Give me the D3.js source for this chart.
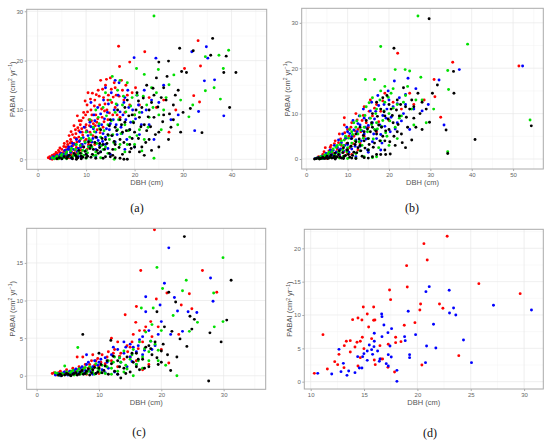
<!DOCTYPE html>
<html><head><meta charset="utf-8">
<script src="https://cdn.jsdelivr.net/npm/d3@7"></script>
<style>body{margin:0;background:#fff}svg{display:block}</style>
</head><body><svg id="c" width="550" height="445"></svg>
<script>
// ---- Panel (a) ----
const aRed=[[2.2,0.3],[2.5,0.5],[2.8,0.2],[3.0,0.8],[3.2,0.4],[3.5,1.0],[3.7,0.6],[4.0,1.2],[4.2,0.3],[4.5,1.5],[4.8,0.9],[5.0,2.0],[5.2,0.5],[5.5,1.6],[5.8,2.5],[6.0,1.0],[6.2,3.0],[6.5,2.2],[6.8,4.0],[7.0,1.5],[7.2,5.0],[7.5,3.2],[7.8,6.0],[8.0,2.4],[8.2,8.8],[8.5,4.5],[8.8,7.0],[9.0,3.0],[9.2,5.5],[9.5,9.5],[9.8,6.5],[10.0,4.0],[10.2,11.0],[10.4,13.5],[10.6,8.0],[10.8,5.5],[11.0,10.0],[11.3,13.4],[11.5,7.2],[11.8,12.0],[12.0,9.0],[12.3,6.0],[12.5,14.0],[12.8,11.0],[13.0,16.0],[13.3,8.5],[13.6,12.5],[14.0,15.0],[14.3,10.0],[14.6,13.0],[15.0,16.5],[15.3,11.5],[15.8,15.5],[16.2,13.0],[16.7,22.9],[16.9,18.8],[17.3,16.0],[17.8,12.0],[18.2,15.0],[19.0,19.7],[19.5,13.5],[20.2,14.5],[21.0,11.0],[22.1,21.8],[23.0,12.5],[24.5,10.5],[26.0,12.0],[27.1,5.5],[28.5,10.0],[30.3,18.4],[32.2,12.9],[33.1,24.05],[33.4,11.6],[33.6,18.9],[6.0,0.5],[7.0,0.8],[8.0,1.2],[9.0,1.8],[5.0,0.2],[4.0,0.1],[3.5,0.2],[6.5,0.3],[11.0,3.5],[12.0,4.5],[13.5,6.5],[14.5,8.0],[15.5,9.0],[9.5,2.5],[10.5,3.0],[16.0,10.5],[17.0,8.5],[18.0,9.5],[19.0,11.0],[20.0,9.0],[3.0,0.0],[4.5,0.7],[5.5,3.2],[6.5,4.8],[7.5,6.8],[8.5,5.8],[9.0,7.8],[10.0,7.0],[11.2,9.0],[12.2,7.5],[7.0,3.5],[8.0,4.2],[9.8,11.8],[13.8,9.8],
 [3.3,0.9],[3.8,1.4],[4.3,1.8],[4.6,2.3],[5.1,1.3],[5.4,2.6],[5.9,1.9],[6.1,3.6],[6.3,2.6],[6.7,3.3],[6.9,5.6],[7.3,2.8],[7.6,4.4],[7.9,5.2],[8.1,3.5],[8.3,6.4],[8.6,7.8],[8.7,3.8],[9.1,6.2],[9.3,4.9],[9.4,8.4],[9.7,3.7],[9.9,9.0],[10.1,5.8],[10.3,9.6],[10.7,6.8],[10.9,12.2],[11.1,7.8],[11.4,4.8],[11.7,10.8],[11.9,6.8],[12.1,13.1],[12.4,8.2],[12.7,12.8],[12.9,5.4],[13.2,10.2],[13.4,14.2],[13.7,7.6],[13.9,11.2],[14.2,16.2],[14.5,12.0],[14.8,9.4],[15.2,14.2],[15.6,12.6],[16.0,14.5],[16.4,9.0],[16.8,12.8],[17.5,14.0],[18.5,13.0],[2.6,0.1],[3.4,0.5],[4.8,0.4],[5.7,0.8],[6.8,1.0],[7.7,1.8],[8.8,2.4],[10.2,2.0],[11.8,3.0]];
const aBlue=[[2.8,0.2],[3.2,0.5],[3.6,0.3],[4.0,0.8],[4.4,0.4],[4.8,1.2],[5.2,0.6],[5.6,1.8],[6.0,0.9],[6.4,2.5],[6.8,1.4],[7.2,3.2],[7.6,1.0],[8.0,4.0],[8.4,2.2],[8.8,5.5],[9.2,3.0],[9.6,6.5],[10.0,1.8],[10.4,4.8],[10.8,7.5],[11.2,3.5],[11.6,9.0],[12.0,5.5],[12.4,10.5],[12.8,2.8],[13.2,7.0],[13.6,12.0],[14.0,4.5],[14.4,9.5],[14.8,6.0],[15.2,13.5],[15.6,8.0],[16.0,3.5],[16.4,11.0],[16.8,15.5],[17.2,6.5],[17.6,9.0],[18.0,12.5],[18.4,4.0],[18.8,10.5],[19.2,7.5],[19.9,20.6],[20.5,13.0],[21.0,5.0],[21.5,9.5],[22.0,14.0],[23.0,7.0],[24.4,20.5],[25.0,11.5],[26.0,15.0],[27.5,8.0],[29.0,9.0],[31.8,21.8],[32.4,5.8],[33.2,9.7],[34.4,15.9],[34.8,22.8],[35.1,20.5],[36.5,16.1],[38.4,8.8],[24.0,4.0],[20.0,2.5],[15.0,1.0],[12.0,0.5],[9.0,0.4],[7.0,0.2],[16.0,16.0],[14.0,14.5],[11.0,11.5],[13.0,1.5],[18.0,2.0],[5.0,0.1],[6.5,0.5],[8.0,0.8],[10.5,2.6],[12.5,3.8],[14.5,2.2],[11.5,6.2],[13.5,5.2],
 [3.4,0.2],[3.9,0.5],[4.6,0.9],[5.4,1.1],[5.9,1.3],[6.2,2.0],[6.6,1.9],[7.0,2.6],[7.4,2.0],[7.8,3.0],[8.2,1.6],[8.6,3.6],[9.0,2.5],[9.4,4.4],[9.8,3.3],[10.2,5.6],[10.6,3.8],[11.0,6.6],[11.4,4.2],[11.8,7.8],[12.2,4.4],[12.6,6.8],[13.0,9.2],[13.4,3.6],[13.8,8.2],[14.2,6.2],[14.6,11.2],[15.0,7.2],[15.4,4.8],[15.8,10.0],[16.2,7.0],[16.6,13.0],[17.0,9.6],[17.4,5.2],[17.8,11.5],[18.2,8.0],[18.6,14.0],[19.0,6.0],[19.6,10.0],[20.2,8.2],[20.8,11.0],[21.4,7.0],[22.4,10.0],[23.5,12.0],[12.0,2.0],[10.0,1.0],[8.4,0.6],[14.0,3.0],[16.4,5.0]];
const aGreen=[[3.0,0.3],[3.5,0.1],[4.0,0.6],[4.5,0.2],[5.0,1.0],[5.5,0.4],[6.0,1.5],[6.5,0.7],[7.0,2.2],[7.5,0.9],[8.0,3.0],[8.5,1.5],[9.0,4.2],[9.5,0.8],[10.0,5.5],[10.5,2.5],[10.8,8.0],[11.0,3.8],[11.5,6.5],[12.0,1.5],[12.5,8.5],[13.0,4.5],[13.5,10.5],[14.0,2.5],[14.5,7.0],[15.0,12.0],[15.4,16.8],[15.5,5.0],[16.0,9.5],[16.5,14.0],[17.0,3.0],[17.5,11.0],[18.0,7.0],[18.5,15.5],[19.0,4.5],[19.5,12.5],[20.0,9.0],[20.4,18.4],[21.0,6.0],[21.5,1.7],[22.0,17.2],[22.5,11.0],[23.0,8.5],[24.0,29.05],[24.0,0.2],[24.5,13.5],[24.9,18.2],[25.5,6.0],[26.0,10.0],[27.1,15.1],[28.1,17.1],[28.9,7.0],[29.5,12.0],[31.2,8.6],[32.0,11.0],[34.6,13.9],[34.6,20.8],[36.4,14.5],[37.4,21.1],[37.7,12.2],[38.3,18.4],[39.4,22.1],[15.8,0.0],[13.0,0.3],[10.0,0.2],[8.0,0.5],[6.0,0.1],[18.0,1.5],[20.0,3.0],[12.0,10.0],[14.0,13.5],[17.0,16.0],[22.0,4.0],[23.5,14.5],[11.0,5.0],[9.0,1.2],[11.5,0.8],[13.5,2.0],[14.8,4.0],[16.5,6.0],[12.8,6.2],
 [3.8,0.4],[4.3,0.1],[4.8,0.7],[5.3,0.3],[5.8,1.1],[6.3,0.5],[6.8,1.7],[7.3,0.6],[7.8,2.0],[8.3,1.0],[8.8,2.8],[9.3,1.8],[9.8,3.5],[10.3,1.3],[10.6,4.2],[11.2,2.5],[11.7,5.6],[12.2,3.2],[12.7,7.2],[13.2,2.8],[13.7,5.8],[14.2,8.8],[14.6,4.8],[15.2,7.8],[15.7,3.4],[16.2,11.2],[16.7,8.0],[17.2,5.2],[17.7,12.8],[18.2,9.6],[18.7,5.8],[19.2,10.8],[19.7,7.6],[20.5,13.0],[21.0,9.5],[21.8,12.8],[22.8,6.5],[23.8,10.5],[25.0,9.0],[26.5,12.5],[10.0,1.8],[12.0,0.8],[14.5,1.2],[16.0,2.0],[18.5,3.0],[20.5,4.8]];
const aBlack=[[4.0,0.1],[4.5,0.3],[5.0,0.1],[5.5,0.5],[6.0,0.2],[6.5,0.8],[7.0,0.3],[7.5,1.2],[8.0,0.5],[8.5,1.8],[9.0,0.6],[9.5,2.5],[10.0,1.0],[10.5,3.5],[11.0,0.4],[11.5,2.0],[12.0,4.5],[12.5,1.2],[13.0,6.0],[13.5,3.0],[14.0,0.5],[14.5,5.0],[15.0,8.0],[15.5,2.0],[16.0,6.5],[16.5,10.0],[17.0,4.0],[17.5,1.0],[17.8,0.0],[18.0,7.5],[18.5,0.0],[18.5,12.0],[19.0,3.0],[19.5,9.0],[20.0,5.5],[20.5,13.5],[21.0,1.5],[21.5,10.5],[22.0,7.0],[22.5,15.0],[23.0,4.0],[23.5,11.5],[24.0,8.5],[24.5,16.5],[25.0,19.7],[25.0,5.5],[25.5,12.5],[26.0,9.0],[26.7,16.8],[27.0,19.9],[27.5,6.5],[28.0,11.0],[29.0,14.0],[29.3,22.5],[29.5,5.5],[29.7,17.8],[30.7,17.6],[31.5,10.3],[32.1,22.0],[33.9,5.4],[35.7,21.1],[36.1,24.5],[38.4,17.6],[38.9,20.9],[39.6,10.5],[40.9,17.6],[12.0,0.2],[10.0,0.3],[9.0,0.1],[8.0,0.0],[15.0,0.5],[16.0,0.3],[13.0,1.5],[19.0,6.0],[21.0,8.5],[23.0,10.0],[20.0,2.5],[22.0,0.8],[25.0,2.5],[27.0,4.0],[18.0,10.5],[17.0,8.0],[16.0,3.0],[14.0,4.0],[24.0,13.0],[26.0,14.5],[28.0,8.0],[30.0,9.5],[11.0,2.8],[12.8,3.2],[14.8,6.8],[17.5,5.5],[19.5,4.2],[22.5,5.8],[20.8,11.8],
 [6.2,0.5],[7.2,0.1],[7.8,0.8],[8.3,0.3],[8.8,1.2],[9.3,0.4],[9.8,1.6],[10.3,0.6],[10.8,2.2],[11.3,1.0],[11.8,3.4],[12.3,1.8],[12.8,2.4],[13.3,4.2],[13.8,2.0],[14.3,3.2],[14.8,1.2],[15.3,4.8],[15.8,3.6],[16.3,5.8],[16.8,2.4],[17.3,7.0],[17.8,3.4],[18.3,5.8],[18.8,8.8],[19.3,2.2],[19.8,7.4],[20.3,10.0],[20.8,4.2],[21.3,6.6],[21.8,12.4],[22.3,3.4],[22.8,8.6],[23.3,6.6],[23.8,14.4],[24.3,5.0],[24.8,10.6],[25.8,7.6],[26.5,12.0],[27.2,9.2],[28.4,13.0],[13.5,0.2],[15.5,0.8],[17.0,0.2],[19.0,1.5],[21.5,2.5],[23.5,1.8]];
// ---- Panel (b) ----
const bRed=[[2.5,0.2],[3.0,0.5],[3.5,0.3],[4.0,1.0],[4.6,2.5],[5.0,0.8],[5.5,1.8],[6.0,3.0],[6.5,1.2],[7.0,4.0],[7.5,2.2],[8.0,5.5],[8.5,3.0],[9.2,9.1],[9.2,7.5],[9.5,4.5],[10.0,6.5],[10.5,2.5],[11.0,8.0],[11.5,5.0],[12.0,10.0],[12.5,6.5],[13.0,3.5],[13.5,8.5],[14.0,11.5],[15.0,7.0],[15.5,13.0],[16.0,9.5],[17.0,12.0],[18.0,10.5],[19.0,14.5],[20.0,8.5],[21.0,12.5],[22.1,23.3],[23.0,11.0],[25.0,14.5],[26.0,12.0],[28.5,13.0],[30.9,17.5],[31.1,13.7],[32.5,9.2],[35.4,21.3],[51.4,20.5],[7.0,0.5],[9.0,1.5],[11.0,1.0],[5.0,0.1],[6.0,0.3],[14.0,5.0],[17.0,6.0],
 [3.8,0.4],[4.3,1.6],[5.3,1.0],[5.8,2.6],[6.3,2.0],[6.8,3.4],[7.3,1.6],[7.8,3.6],[8.3,4.4],[8.8,2.2],[9.3,5.8],[9.8,3.4],[10.3,5.0],[10.8,7.0],[11.3,3.4],[11.8,6.2],[12.3,8.6],[13.2,6.0],[13.8,9.6],[14.5,8.0],[15.2,10.5],[16.5,11.2],[17.5,8.2],[18.5,12.8],[4.0,0.2],[8.0,0.8],[10.0,1.2],[12.5,2.0]];
const bBlue=[[2.2,0.1],[2.8,0.3],[3.3,0.2],[3.8,0.6],[4.3,0.3],[4.8,1.2],[5.3,0.5],[5.8,2.0],[6.3,0.9],[6.8,3.0],[7.3,1.5],[7.8,4.2],[8.3,2.2],[8.8,5.5],[9.3,3.0],[9.8,7.0],[10.3,1.5],[10.8,4.5],[11.3,8.5],[11.8,2.8],[12.3,6.0],[12.8,9.5],[13.3,4.0],[13.8,11.0],[14.3,7.0],[14.8,2.0],[15.3,9.0],[15.8,12.5],[16.3,5.5],[16.8,10.5],[17.3,14.0],[17.8,7.5],[18.3,3.5],[18.8,12.0],[19.3,9.0],[19.8,15.0],[20.3,6.0],[21.0,11.5],[21.3,17.2],[22.0,8.0],[22.5,13.5],[23.5,10.0],[24.6,17.8],[25.0,6.5],[26.5,15.5],[28.0,10.6],[29.5,12.0],[32.1,17.4],[33.3,7.5],[37.0,19.7],[52.3,20.5],[12.0,0.5],[9.0,0.3],[7.0,0.2],[15.0,1.5],[18.0,2.0],[10.0,6.0],[11.0,5.0],[13.0,7.5],[14.0,5.5],[16.0,8.0],[17.0,4.5],[20.0,13.0],[24.0,12.0],[6.0,1.5],[8.0,1.0],[5.0,0.8],
 [3.5,0.4],[4.0,0.1],[4.5,0.7],[5.5,1.3],[6.5,1.9],[7.0,0.6],[7.5,2.6],[8.0,2.0],[8.5,3.6],[9.0,1.8],[9.5,4.6],[10.0,3.2],[10.5,5.6],[11.0,2.2],[11.5,6.4],[12.0,4.2],[12.5,7.8],[13.0,2.8],[13.5,6.2],[14.0,9.0],[14.5,4.4],[15.0,7.4],[15.5,10.6],[16.0,3.8],[16.5,8.8],[17.0,6.4],[17.5,11.8],[18.0,5.4],[18.5,9.6],[19.0,7.2],[19.5,11.0],[20.5,9.2],[21.5,6.6],[22.0,12.2],[23.0,8.4],[24.0,14.2],[26.0,11.0]];
const bGreen=[[2.5,0.2],[3.0,0.1],[3.5,0.5],[4.0,0.2],[4.5,0.9],[5.0,0.4],[5.5,1.5],[6.0,0.3],[6.5,2.2],[7.0,0.8],[7.5,3.0],[8.0,1.4],[8.5,4.0],[9.0,0.6],[9.5,5.0],[10.0,2.5],[10.5,6.5],[11.0,3.5],[11.5,8.0],[12.0,1.2],[12.5,5.5],[13.0,9.5],[13.5,3.0],[14.0,7.0],[14.3,17.5],[14.5,11.5],[15.0,4.5],[15.5,9.0],[16.0,13.5],[16.5,17.5],[16.5,6.5],[17.0,11.0],[17.5,2.5],[18.0,24.8],[18.0,15.0],[18.5,8.5],[19.0,12.5],[19.5,5.0],[20.0,10.0],[20.5,14.5],[21.5,19.7],[21.5,7.0],[22.0,12.0],[23.0,9.5],[23.9,19.7],[24.0,14.0],[25.0,19.4],[25.5,11.0],[26.0,7.5],[27.0,31.5],[27.7,18.0],[28.0,13.0],[29.0,8.0],[30.8,11.0],[34.2,19.5],[34.4,15.3],[34.2,1.6],[39.0,25.3],[54.1,8.6],[12.0,0.2],[14.0,0.5],[16.0,0.3],[10.0,0.1],[8.0,0.2],[13.0,1.8],[15.0,2.0],[18.0,4.0],[20.0,3.0],[11.0,6.0],[12.0,7.0],[9.0,3.0],[17.0,8.0],[19.0,16.0],[21.0,15.5],[22.0,4.5],
 [3.2,0.3],[3.8,0.1],[4.2,0.6],[4.8,0.3],[5.2,1.1],[5.8,0.6],[6.2,1.6],[6.8,1.0],[7.2,2.6],[7.8,1.6],[8.2,3.2],[8.8,2.0],[9.2,4.2],[9.8,1.6],[10.2,4.6],[10.8,2.8],[11.2,5.4],[11.8,4.0],[12.2,8.4],[12.8,3.8],[13.2,6.4],[13.8,4.6],[14.2,9.6],[14.8,6.0],[15.2,12.4],[15.8,7.6],[16.2,4.4],[16.8,10.0],[17.2,6.6],[17.8,13.0],[18.2,7.2],[18.8,10.6],[19.2,5.8],[19.8,13.6],[20.2,8.4],[21.0,11.2],[22.5,9.0],[23.5,12.5],[24.5,16.0],[26.5,13.0],[17.0,0.5]];
const bBlack=[[2.0,0.0],[2.5,0.1],[3.0,0.3],[3.5,0.1],[4.0,0.4],[4.5,0.1],[5.0,0.6],[5.5,0.2],[6.0,0.9],[6.5,0.3],[7.0,1.3],[7.5,0.5],[8.0,1.8],[8.5,0.2],[9.0,2.5],[9.5,0.8],[10.0,3.5],[10.5,0.4],[11.0,4.5],[11.5,1.5],[12.0,5.5],[12.5,2.5],[13.0,7.0],[13.5,0.6],[14.0,4.0],[14.5,8.5],[15.0,2.0],[15.5,6.0],[16.0,10.0],[16.5,3.5],[17.0,12.5],[17.5,7.5],[18.0,1.0],[18.5,5.0],[19.0,9.5],[19.2,1.0],[19.5,14.0],[20.0,6.5],[20.3,1.1],[20.5,11.0],[21.2,24.4],[21.0,8.0],[21.5,3.0],[22.0,13.0],[22.5,9.5],[23.0,5.5],[23.5,15.7],[24.0,11.5],[24.5,7.0],[25.5,4.2],[25.5,13.0],[26.0,9.0],[27.0,14.5],[28.0,6.5],[29.0,11.0],[29.7,30.9],[29.8,8.1],[30.5,14.5],[31.7,16.3],[33.8,6.4],[34.2,1.2],[35.6,19.3],[35.7,14.5],[40.8,4.3],[54.4,7.3],[12.0,0.1],[14.0,0.3],[16.0,0.5],[11.0,0.2],[9.0,0.1],[7.0,0.0],[13.0,3.0],[15.0,4.5],[17.0,5.5],[18.0,11.0],[16.0,7.0],[14.0,6.0],[12.0,3.8],[10.0,2.0],[19.0,4.0],[20.0,12.0],[22.0,6.0],[24.0,2.5],[26.0,11.5],[27.5,10.0],[18.5,13.5],
 [3.2,0.0],[3.8,0.2],[4.2,0.2],[4.8,0.3],[5.2,0.1],[5.8,0.5],[6.2,0.2],[6.8,0.6],[7.2,0.3],[7.8,1.0],[8.2,0.4],[8.8,1.4],[9.2,0.6],[9.8,2.0],[10.2,1.0],[10.8,2.8],[11.2,0.8],[11.8,3.2],[12.2,1.4],[12.8,4.4],[13.2,1.8],[13.8,5.2],[14.2,2.4],[14.8,6.6],[15.2,3.2],[15.8,8.0],[16.2,2.6],[16.8,6.2],[17.2,9.4],[17.8,4.0],[18.2,7.0],[18.8,10.4],[19.2,6.2],[19.8,8.8],[20.2,3.8],[20.8,9.6],[21.2,5.0],[21.8,10.8],[22.2,7.6],[22.8,12.0],[23.2,3.6],[24.2,9.2],[25.0,11.0],[26.5,7.0],[28.0,12.5],[15.0,0.2],[17.0,1.0],[19.0,2.0]];
// ---- Panel (c) ----
const cRed=[[2.5,0.3],[3.0,0.2],[3.5,0.4],[4.0,0.1],[4.5,0.5],[5.0,0.3],[5.5,0.6],[6.0,0.2],[6.5,2.5],[6.5,0.8],[7.0,0.4],[7.4,2.5],[7.5,1.0],[8.0,0.5],[8.5,1.5],[9.0,2.8],[9.0,0.8],[9.5,2.0],[10.0,1.2],[10.5,2.8],[11.0,1.6],[11.5,3.2],[12.0,2.0],[12.5,3.5],[13.0,1.2],[13.5,3.0],[14.0,2.2],[14.2,8.1],[14.5,4.0],[15.0,3.8],[15.5,5.5],[15.9,7.1],[16.0,9.2],[16.5,6.0],[16.7,14.0],[17.0,4.5],[17.5,6.5],[18.0,1.5],[18.5,5.2],[18.9,19.4],[19.2,10.2],[19.5,6.5],[20.0,3.5],[20.9,11.0],[21.2,1.7],[22.8,5.5],[23.2,9.4],[24.5,10.9],[24.9,8.9],[26.6,14.0],[28.9,11.1],[17.0,0.8],[15.0,2.5],[13.0,4.5],[12.0,5.0],[10.0,0.3],[8.0,0.2],[16.0,2.0],
 [2.8,0.4],[3.3,0.1],[3.8,0.6],[4.3,0.3],[4.8,0.8],[5.3,0.5],[5.8,1.0],[6.2,0.6],[6.8,1.2],[7.2,0.7],[7.8,1.5],[8.3,1.0],[8.8,2.0],[9.3,1.4],[9.8,2.3],[10.3,1.8],[11.3,2.5],[12.3,3.0],[13.3,2.6],[14.6,3.2],[15.3,4.5],[16.3,3.6],[17.3,6.0],[18.3,7.2]];
const cBlue=[[3.0,0.1],[3.5,0.3],[4.0,0.2],[4.5,0.5],[5.0,0.1],[5.5,0.4],[6.0,0.7],[6.5,0.2],[7.0,1.0],[7.5,0.4],[8.0,1.5],[8.0,2.8],[8.5,0.6],[9.0,1.2],[9.5,0.3],[10.0,1.8],[10.5,0.8],[11.0,2.4],[11.5,1.0],[12.0,2.8],[12.5,0.5],[13.0,3.5],[13.5,1.8],[14.0,3.0],[14.0,4.5],[14.5,1.2],[15.0,2.5],[15.5,3.8],[16.0,1.5],[16.5,4.8],[17.0,2.8],[17.5,10.5],[17.5,8.5],[18.0,6.0],[18.5,3.5],[19.0,4.0],[19.5,5.5],[19.8,9.4],[20.0,7.2],[20.5,12.3],[21.2,17.0],[21.5,5.5],[22.1,10.4],[22.6,8.6],[23.4,5.9],[24.3,8.5],[25.7,8.4],[27.9,13.0],[28.3,9.9],[13.0,0.2],[11.0,0.4],[9.0,0.2],[17.0,5.2],[16.0,3.2],[15.0,4.2],
 [3.3,0.2],[3.8,0.0],[4.3,0.4],[4.8,0.2],[5.3,0.6],[5.8,0.3],[6.3,0.9],[6.8,0.5],[7.3,1.2],[7.8,0.7],[8.3,1.8],[8.8,1.0],[9.3,2.0],[9.8,1.4],[10.3,2.2],[11.3,1.8],[12.3,3.8],[13.3,2.4],[14.3,3.8],[15.3,1.9],[16.3,4.0],[17.3,3.4],[18.3,4.6]];
const cGreen=[[3.0,0.4],[3.5,0.1],[4.0,0.3],[4.5,1.3],[5.0,0.2],[5.5,0.5],[6.0,0.1],[6.6,3.75],[6.5,0.6],[7.0,0.2],[7.5,0.9],[8.0,0.3],[8.5,1.2],[9.0,0.5],[9.5,1.6],[10.0,0.7],[10.5,1.4],[11.0,0.3],[11.5,2.0],[12.0,1.0],[12.5,2.5],[13.0,0.6],[13.5,1.8],[14.0,3.3],[14.5,0.9],[15.0,2.2],[15.5,0.0],[15.5,3.5],[16.0,1.5],[16.5,4.5],[16.8,9.0],[17.0,2.5],[17.5,5.8],[18.0,3.2],[18.5,6.8],[18.7,9.0],[19.0,4.2],[19.3,14.4],[19.5,2.0],[20.0,6.0],[20.2,11.6],[20.7,1.4],[21.9,8.0],[22.5,0.0],[23.4,11.3],[24.0,12.7],[24.5,5.9],[25.8,7.1],[28.4,11.0],[28.5,6.5],[29.9,15.7],[29.9,7.2],[12.0,0.2],[14.0,0.5],[17.0,1.0],[18.0,2.0],
 [3.3,0.3],[3.8,0.1],[4.3,0.2],[4.8,0.5],[5.3,0.3],[5.8,0.7],[6.3,0.2],[6.8,0.9],[7.3,0.4],[7.8,1.1],[8.3,0.6],[8.8,0.9],[9.3,0.2],[9.8,1.0],[10.3,0.4],[11.3,1.2],[12.3,1.8],[13.3,2.4],[14.3,1.4],[15.3,2.8],[16.3,2.0],[17.3,3.6],[18.3,4.6],[19.5,3.4]];
const cBlack=[[3.5,0.1],[4.0,0.0],[5.0,0.2],[5.5,0.0],[6.0,0.3],[6.5,0.1],[7.0,0.5],[7.4,5.5],[7.5,0.2],[8.0,0.6],[8.5,0.1],[9.0,0.8],[9.5,0.3],[10.0,3.0],[10.0,1.0],[10.5,0.4],[11.0,1.3],[11.5,0.2],[11.9,4.7],[12.0,1.6],[12.5,0.6],[13.0,2.0],[13.5,-0.3],[14.0,1.0],[14.5,2.5],[15.0,0.5],[15.5,1.8],[16.0,3.0],[16.5,0.8],[17.0,2.2],[17.5,3.8],[18.0,1.2],[18.5,2.8],[19.0,4.5],[19.3,8.5],[19.5,1.5],[20.0,3.3],[20.5,6.5],[21.2,11.1],[21.5,0.7],[21.7,5.9],[22.3,9.8],[22.5,2.5],[23.0,4.9],[23.7,18.5],[24.1,3.9],[24.6,7.9],[24.9,6.2],[25.3,7.5],[27.6,-0.7],[27.8,5.7],[29.6,4.5],[30.5,7.4],[31.2,12.7],[18.0,4.0],[20.0,1.8],[16.0,1.2],[13.0,0.2],
 [3.8,0.2],[4.5,0.1],[4.8,0.3],[5.3,0.1],[5.8,0.2],[6.3,0.4],[6.8,0.2],[7.3,0.7],[7.8,0.3],[8.3,0.9],[8.8,0.4],[9.3,1.1],[9.8,0.5],[10.3,1.5],[10.8,0.7],[11.3,2.0],[12.3,2.6],[13.3,1.2],[14.3,0.3],[15.3,3.0],[16.3,2.2],[17.3,1.0],[18.3,3.6],[19.3,2.4],[20.3,4.2],[21.0,2.8]];
// ---- Panel (d) ----
const dRed=[[10.34,1.25],[11.15,7.05],[11.56,1.9],[12.25,3.0],[12.53,2.55],[12.65,4.1],[13.15,5.4],[13.12,2.1],[13.34,6.05],[13.71,6.15],[13.71,4.45],[13.93,9.3],[14.15,5.2],[14.34,5.9],[14.43,9.55],[14.43,2.35],[14.65,6.05],[14.65,3.6],[14.8,9.25],[14.84,6.65],[14.93,11.2],[14.99,4.95],[15.3,10.15],[15.43,8.2],[15.71,6.45],[15.9,11.2],[15.9,9.2],[16.02,9.25],[15.96,3.25],[16.05,2.55],[16.49,5.4],[16.58,3.4],[16.74,3.4],[17.24,2.15],[17.27,5.6],[17.39,13.75],[17.49,12.3],[17.96,6.65],[17.96,5.85],[17.86,1.45],[18.46,6.0],[18.77,8.45],[18.99,17.4],[19.05,14.2],[19.77,8.85],[20.23,10.75],[20.3,11.65],[20.42,2.5],[20.61,20.7],[20.92,18.25],[22.07,11.65],[22.39,11.0],[22.79,21.8],[23.88,3.9],[25.76,14.7],[29.63,13.2]];
const dBlue=[[10.66,1.25],[11.97,1.15],[12.65,4.85],[12.84,1.5],[13.06,2.75],[13.4,0.95],[13.56,1.6],[14.15,1.35],[14.4,3.75],[14.56,2.05],[14.8,2.05],[14.87,3.75],[14.99,4.2],[15.3,4.6],[15.3,3.2],[15.49,5.5],[15.71,4.8],[15.8,4.1],[15.93,5.25],[15.96,6.05],[15.96,7.25],[16.27,4.6],[16.43,3.05],[16.49,3.4],[16.65,10.15],[16.68,9.75],[16.68,6.75],[16.86,8.5],[17.08,2.7],[17.24,7.35],[17.27,4.05],[17.27,2.35],[17.43,5.35],[17.58,7.95],[17.55,3.7],[18.08,1.7],[18.08,0.05],[18.8,6.75],[18.86,6.15],[19.14,10.55],[19.27,4.05],[19.27,3.6],[19.83,7.05],[20.8,13.5],[20.86,5.35],[20.76,2.85],[21.11,14.25],[21.51,8.6],[21.73,5.05],[22.98,13.7],[23.01,10.3],[23.39,11.05],[23.6,10.0],[24.32,6.25],[25.07,2.85],[27.13,11.45],[30.69,10.75]];

const panels=[
 {series:[[aRed,"#ff0000"],[aBlue,"#0000ff"],[aGreen,"#00e000"],[aBlack,"#000000"]],
  box:[26.7,266.7,9.3,169.3],xd:[-2.25,47.25],yd:[-2.03,30.4],xt:[0,10,20,30,40],yt:[0,10,20,30],cap:"(a)",capX:137,capY:212},
 {series:[[bRed,"#ff0000"],[bBlue,"#0000ff"],[bGreen,"#00e000"],[bBlack,"#000000"]],
  box:[301.7,543.3,8.3,169],xd:[-1.1,57.3],yd:[-2.2,33.2],xt:[0,10,20,30,40,50],yt:[0,10,20,30],cap:"(b)",capX:412,capY:212},
 {series:[[cRed,"#ff0000"],[cBlue,"#0000ff"],[cGreen,"#00e000"],[cBlack,"#000000"]],
  box:[26.7,265.7,228.3,389.3],xd:[-1.6,36.75],yd:[-1.8,19.6],xt:[0,10,20,30],yt:[0,5,10,15],cap:"(c)",capX:139,capY:436},
 {series:[[dRed,"#ff0000"],[dBlue,"#0000ff"]],
  box:[304.3,543.3,229.3,389],xd:[9.4,31.8],yd:[-1.1,22.85],xt:[10,15,20,25,30],yt:[0,5,10,15,20],cap:"(d)",capX:430,capY:437}
];

const svg=d3.select("#c");
panels.forEach(p=>{
  const [L,R,T,B]=p.box;
  const x=d3.scaleLinear().domain(p.xd).range([L,R]);
  const y=d3.scaleLinear().domain(p.yd).range([B,T]);
  const g=svg.append("g");
  const minors=(t,d)=>{const s=t[1]-t[0];const out=[];for(let v=t[0]-s/2;v<=t[t.length-1]+s/2+1e-9;v+=s){if(v>d[0]&&v<d[1])out.push(v);}return out;};
  g.selectAll(".mx").data(minors(p.xt,p.xd)).join("line").attr("x1",d=>x(d)).attr("x2",d=>x(d)).attr("y1",T).attr("y2",B).attr("stroke","#f3f3f3").attr("stroke-width",0.5);
  g.selectAll(".my").data(minors(p.yt,p.yd)).join("line").attr("y1",d=>y(d)).attr("y2",d=>y(d)).attr("x1",L).attr("x2",R).attr("stroke","#f3f3f3").attr("stroke-width",0.5);
  g.selectAll(".gx").data(p.xt).join("line").attr("x1",d=>x(d)).attr("x2",d=>x(d)).attr("y1",T).attr("y2",B).attr("stroke","#e8e8e8").attr("stroke-width",0.7);
  g.selectAll(".gy").data(p.yt).join("line").attr("y1",d=>y(d)).attr("y2",d=>y(d)).attr("x1",L).attr("x2",R).attr("stroke","#e8e8e8").attr("stroke-width",0.7);
  p.series.forEach(([data,col])=>{
    g.append("g").selectAll("circle").data(data).join("circle")
     .attr("cx",d=>x(d[0])).attr("cy",d=>y(d[1])).attr("r",1.45).attr("fill",col);
  });
  g.append("rect").attr("x",L).attr("y",T).attr("width",R-L).attr("height",B-T).attr("fill","none").attr("stroke","#aaaaaa").attr("stroke-width",1);
  const ax=g.append("g").attr("transform",`translate(0,${B})`).call(d3.axisBottom(x).tickValues(p.xt).tickSize(2).tickPadding(1.5).tickFormat(d3.format("d")));
  const ay=g.append("g").attr("transform",`translate(${L},0)`).call(d3.axisLeft(y).tickValues(p.yt).tickSize(2).tickPadding(1.5).tickFormat(d3.format("d")));
  [ax,ay].forEach(a=>{a.select(".domain").remove();a.selectAll("line").attr("stroke","#aaaaaa");a.selectAll("text").attr("fill","#666").style("font-family","Liberation Sans, Arial, sans-serif").style("font-size","6px");});
  g.append("text").attr("x",(L+R)/2).attr("y",B+15.5).attr("text-anchor","middle").attr("fill","#555").style("font-family","Liberation Sans, Arial, sans-serif").style("font-size","7.5px").text("DBH (cm)");
  const yt=g.append("text").attr("transform",`translate(${L-12},${(T+B)/2}) rotate(-90)`).attr("text-anchor","middle").attr("fill","#555").style("font-family","Liberation Sans, Arial, sans-serif").style("font-size","7.5px");
  yt.append("tspan").text("PABAI (cm");
  yt.append("tspan").attr("dy",-2.5).style("font-size","5px").text("2");
  yt.append("tspan").attr("dy",2.5).text(" yr");
  yt.append("tspan").attr("dy",-2.5).style("font-size","5px").text("−1");
  yt.append("tspan").attr("dy",2.5).text(")");
  svg.append("text").attr("x",p.capX).attr("y",p.capY).attr("text-anchor","middle").attr("fill","#111").style("font-family","Liberation Serif, Times New Roman, serif").style("font-size","12px").text(p.cap);
});
</script></body></html>
